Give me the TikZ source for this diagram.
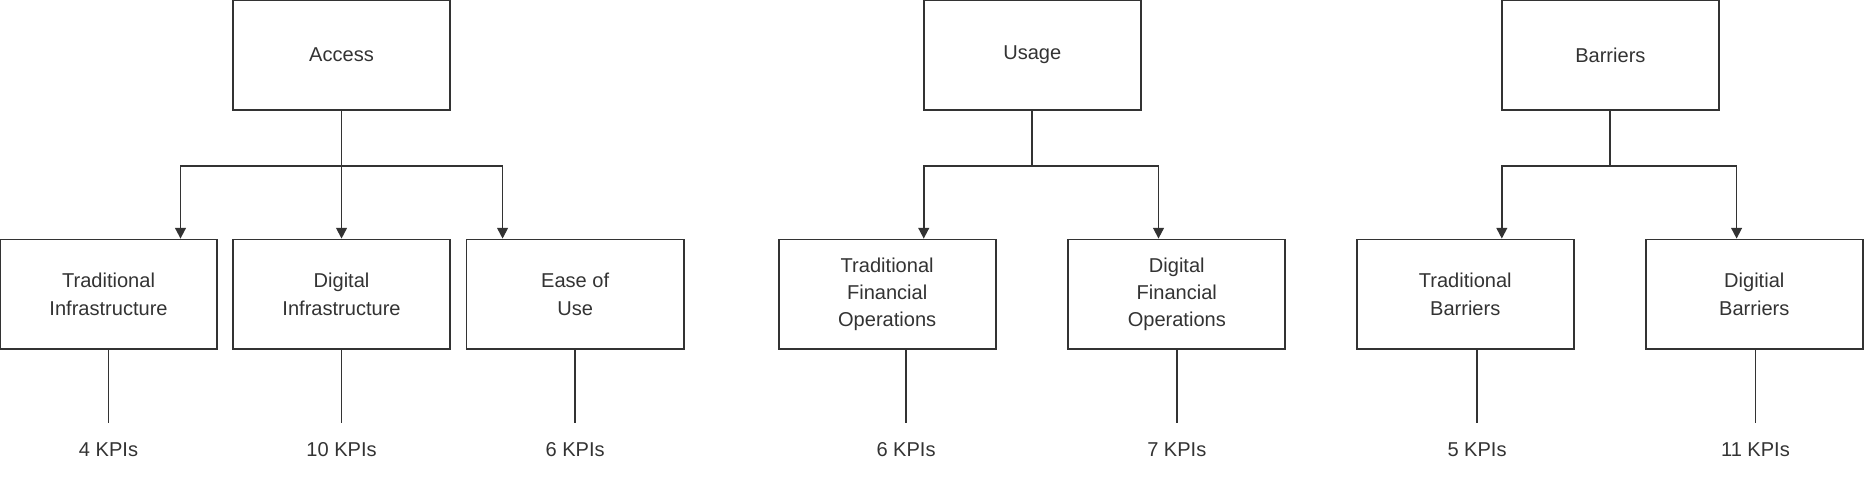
\documentclass[tikz,border=0pt]{standalone}
\usepackage{fontspec}
\setmainfont{Liberation Sans}
\usetikzlibrary{arrows.meta}
\definecolor{ink}{HTML}{333333}

\begin{document}
\begin{tikzpicture}[x=1pt,y=-1pt,
  box/.style={draw=ink,line width=1.5pt,minimum width=184pt,minimum height=93pt,
    align=center,text=ink,font=\fontsize{17}{23}\selectfont},
  kpi/.style={text=ink,font=\fontsize{17}{23}\selectfont},
  link/.style={draw=ink,line width=1.5pt},
  arr/.style={link,-{Triangle[length=9pt,width=9pt]}}]
\useasboundingbox (0,0) rectangle (1580,403.5);

%Top level
\node[box] (access) at (289.5,46.5) {Access};
\node[box] (usage) at (875,46.5) {Usage};
\node[box] (barriers) at (1365,46.5) {Barriers};

%Second level
\node[box] (tinf) at (92,249.5) {Traditional\\Infrastructure};
\node[box] (dinf) at (289.5,249.5) {Digital\\Infrastructure};
\node[box] (ease) at (487.5,249.5) {Ease of\\Use};
\node[box] (tfin) at (752,249.5) {Traditional\\Financial\\Operations};
\node[box] (dfin) at (997.5,249.5) {Digital\\Financial\\Operations};
\node[box] (tbar) at (1242,249.5) {Traditional\\Barriers};
\node[box] (dbar) at (1487,249.5) {Digitial\\Barriers};

%KPI counts
\node[kpi] (k1) at (92,381) {4 KPIs};
\node[kpi] (k2) at (289.5,381) {10 KPIs};
\node[kpi] (k3) at (487.5,381) {6 KPIs};
\node[kpi] (k4) at (768,381) {6 KPIs};
\node[kpi] (k5) at (997.5,381) {7 KPIs};
\node[kpi] (k6) at (1252,381) {5 KPIs};
\node[kpi] (k7) at (1488,381) {11 KPIs};

%Branch points
\coordinate (accbar) at (289.5,141);
\coordinate (usebar) at (875,141);
\coordinate (barbar) at (1365,141);
\coordinate (a1) at (153,0);
\coordinate (a2) at (289.5,0);
\coordinate (a3) at (426,0);
\coordinate (u1) at (783,0);
\coordinate (u2) at (982,0);
\coordinate (b1) at (1273,0);
\coordinate (b2) at (1472,0);

\draw[link] (access) -- (accbar);
\draw[link] (usage) -- (usebar);
\draw[link] (barriers) -- (barbar);
\draw[arr] (accbar) -| (tinf.north -| a1);
\draw[arr] (accbar) -- (dinf.north -| a2);
\draw[arr] (accbar) -| (ease.north -| a3);
\draw[arr] (usebar) -| (tfin.north -| u1);
\draw[arr] (usebar) -| (dfin.north -| u2);
\draw[arr] (barbar) -| (tbar.north -| b1);
\draw[arr] (barbar) -| (dbar.north -| b2);

\foreach \b/\k in {tinf/k1,dinf/k2,ease/k3,tfin/k4,dfin/k5,tbar/k6,dbar/k7}
  \draw[link,line width=1.2pt] (\b.south -| \k) -- ([yshift=13pt]\k.north);
\end{tikzpicture}
\end{document}
